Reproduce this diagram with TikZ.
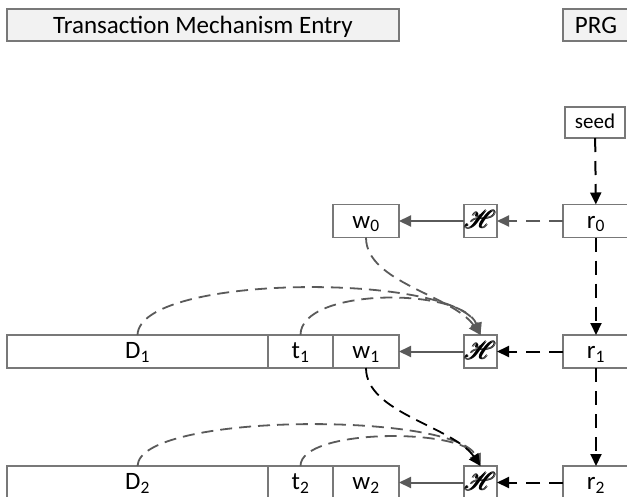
\documentclass[tikz,border=0pt]{standalone}
\usepackage{fontspec}
\setmainfont{Carlito}
\usepackage{amsmath}
\usepackage{mathrsfs}
\usetikzlibrary{arrows.meta}
\usetikzlibrary{positioning}

\definecolor{boxline}{RGB}{120,120,120}
\definecolor{linkgray}{RGB}{90,90,90}
\definecolor{headfill}{RGB}{242,242,242}

\begin{document}
\begin{tikzpicture}[x=1pt, y=-1pt,
    box/.style={draw=boxline, line width=1.3pt, fill=white, inner sep=0pt, outer sep=0pt, minimum height=33pt, text height=14pt, text depth=0pt, font=\fontsize{25}{25}\selectfont},
    head/.style={box, fill=headfill, minimum height=32pt, text height=16pt},
    hash/.style={box, minimum width=33pt, text height=15pt},
    tip/.style={-{Triangle[length=12pt, width=11pt]}},
    link/.style={tip, draw=linkgray, line width=2pt},
    keylink/.style={tip, black, line width=2pt, dash pattern=on 14pt off 9pt},
    seedlink/.style={tip, linkgray, line width=2pt, dash pattern=on 14pt off 9pt},
    feed/.style={tip, linkgray, line width=1.8pt, dash pattern=on 12pt off 7pt},
    wfeed/.style={tip, black, line width=1.8pt, dash pattern=on 12pt off 7pt}]

    \useasboundingbox (0,0) rectangle (627,496);

    \node [head, minimum width=392pt] (entry) at (203,25) {Transaction Mechanism Entry};
    \node [head, minimum width=66pt, anchor=west] (prg) at (563,25) {PRG};

    \node [box, minimum width=60pt, minimum height=31pt, text height=12pt, font=\fontsize{21}{21}\selectfont] (seed) at (595,122.5) {seed};

    \node [box, minimum width=66pt] (w0) at (366,221) {w\textsubscript{0}};
    \node [hash] (H0) at (480.5,221) {$\pmb{\mathscr{H}}$};
    \node [box, minimum width=66pt] (r0) at (596,221) {r\textsubscript{0}};

    \node [box, minimum width=261pt, anchor=west] (D1) at (7,351.5) {D\textsubscript{1}};
    \node [box, minimum width=65pt, right=0pt of D1] (t1) {t\textsubscript{1}};
    \node [box, minimum width=66pt, right=0pt of t1] (w1) {w\textsubscript{1}};
    \node [hash] (H1) at (480.5,351.5) {$\pmb{\mathscr{H}}$};
    \node [box, minimum width=66pt] (r1) at (596,351.5) {r\textsubscript{1}};

    \node [box, minimum width=261pt, anchor=west] (D2) at (7,482.5) {D\textsubscript{2}};
    \node [box, minimum width=65pt, right=0pt of D2] (t2) {t\textsubscript{2}};
    \node [box, minimum width=66pt, right=0pt of t2] (w2) {w\textsubscript{2}};
    \node [hash] (H2) at (480.5,482.5) {$\pmb{\mathscr{H}}$};
    \node [box, minimum width=66pt] (r2) at (596,482.5) {r\textsubscript{2}};

    \draw [keylink] (seed) -- (r0);
    \draw [keylink] (r0) -- (r1);
    \draw [keylink] (r1) -- (r2);

    \draw [seedlink] (r0) -- (H0);
    \draw [link] (H0) -- (w0);
    \draw [keylink] (r1) -- (H1);
    \draw [link] (H1) -- (w1);
    \draw [keylink] (r2) -- (H2);
    \draw [link] (H2) -- (w2);

    \draw [feed] (D1.north) .. controls +(2,-62) and +(-25,-62) .. (H1.north);
    \draw [feed] (t1.north) .. controls +(0,-48) and +(-18,-48) .. (H1.north);
    \draw [feed] (w0.south) .. controls +(0,45) and +(-28,-40) .. (H1.north);

    \draw [feed] (D2.north) .. controls +(2,-54) and +(-25,-54) .. (H2.north);
    \draw [feed] (t2.north) .. controls +(0,-38) and +(-18,-38) .. (H2.north);
    \draw [wfeed] (w1.south) .. controls +(0,45) and +(-28,-40) .. (H2.north);

\end{tikzpicture}
\end{document}
